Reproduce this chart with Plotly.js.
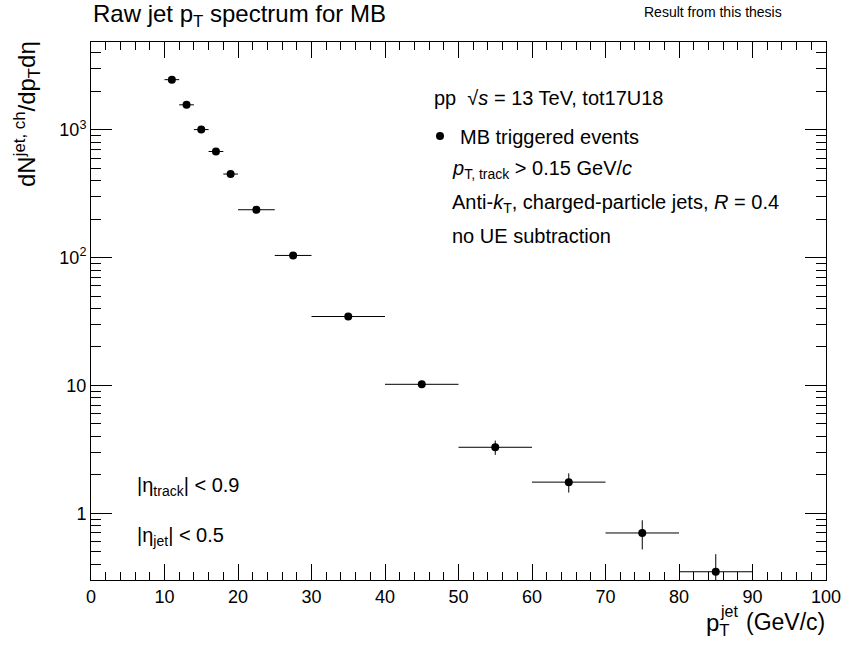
<!DOCTYPE html>
<html>
<head>
<meta charset="utf-8">
<script src="https://cdn.plot.ly/plotly-3.0.1.min.js"></script>
<style>html,body{margin:0;padding:0;background:#fff;}#chart{width:841px;height:646px;}</style>
</head>
<body>
<div id="chart"></div>
<script>
// Bin centres (GeV/c), half bin widths, yields and statistical errors
const binCenters = [11, 13, 15, 17, 19, 22.5, 27.5, 35, 45, 55, 65, 75, 85];
const binHalfWidths = [1, 1, 1, 1, 1, 2.5, 2.5, 5, 5, 5, 5, 5, 5];
const yields = [2470, 1570, 1005, 677, 451, 237, 104, 34.6, 10.2, 3.28, 1.75, 0.70, 0.348];
const yieldErrors = [15, 12, 9, 7, 6, 3, 2, 1.0, 0.35, 0.42, 0.30, 0.18, 0.13];
const yTickVals = [1, 10, 100, 1000];
const yTickText = ['1', '10', '10<sup>2</sup>', '10<sup>3</sup>'];

const FONT = 'Liberation Sans, Arial, Helvetica, sans-serif';
const L = 91, R = 826, T = 42, B = 580;
const px = v => (v - L) / (R - L);
const py = v => (B - v) / (B - T);

const trace = {
  type: 'scatter', mode: 'markers',
  x: binCenters, y: yields,
  name: 'MB triggered events',
  marker: {color: '#000', size: 8, symbol: 'circle'},
  error_x: {type: 'data', array: binHalfWidths, visible: true, color: '#000', thickness: 1, width: 0},
  error_y: {type: 'data', array: yieldErrors, visible: true, color: '#000', thickness: 1, width: 0}
};

function ann(text, x, y, size, xanchor, yanchor, extra) {
  return Object.assign({text: text, x: px(x), y: py(y), xref: 'paper', yref: 'paper',
    xanchor: xanchor, yanchor: yanchor, showarrow: false,
    font: {family: FONT, size: size, color: '#000'}}, extra || {});
}

const layout = {
  width: 841, height: 646,
  margin: {l: L, r: 841 - R, t: T, b: 646 - B, pad: 0},
  paper_bgcolor: '#fff', plot_bgcolor: '#fff',
  font: {family: FONT, color: '#000'},
  showlegend: true,
  legend: {x: px(420), y: py(136), xanchor: 'left', yanchor: 'middle',
    bgcolor: 'rgba(0,0,0,0)', borderwidth: 0, itemwidth: 30,
    font: {family: FONT, size: 20, color: '#000'}},
  xaxis: {
    range: [0, 100], tickmode: 'linear', tick0: 0, dtick: 10,
    ticks: 'inside', ticklen: 16, tickwidth: 1, tickcolor: '#000',
    showline: true, linecolor: '#000', linewidth: 1, mirror: 'allticks',
    showgrid: false, zeroline: false, ticklabeloverflow: 'allow',
    tickfont: {family: FONT, size: 18, color: '#000'},
    minor: {dtick: 2, ticks: 'inside', ticklen: 8, tickwidth: 1, tickcolor: '#000', showgrid: false}
  },
  yaxis: {
    type: 'log', range: [Math.log10(0.3), 3.6875],
    tickmode: 'array', tickvals: yTickVals, ticktext: yTickText,
    ticks: 'inside', ticklen: 21, tickwidth: 1, tickcolor: '#000',
    showline: true, linecolor: '#000', linewidth: 1, mirror: 'allticks',
    showgrid: false, zeroline: false,
    tickfont: {family: FONT, size: 18, color: '#000'},
    minor: {dtick: 'D1', ticks: 'inside', ticklen: 10, tickwidth: 1, tickcolor: '#000', showgrid: false}
  },
  annotations: [
    ann('Raw jet p<sub>T</sub> spectrum for MB', 91, 16, 24, 'left', 'middle'),
    ann('Result from this thesis', 642, 12, 14, 'left', 'middle'),
    ann('pp  √<i>s</i> = 13 TeV, tot17U18', 432, 98, 20, 'left', 'middle'),
    ann('<i>p</i><sub>T, track</sub> > 0.15 GeV/<i>c</i>', 450, 169, 20, 'left', 'middle'),
    ann('Anti-<i>k</i><sub>T</sub>, charged-particle jets, <i>R</i> = 0.4', 450, 204, 20, 'left', 'middle'),
    ann('no UE subtraction', 450, 236, 20, 'left', 'middle'),
    ann('|η<sub>track</sub>| < 0.9', 135, 486, 20, 'left', 'middle'),
    ann('|η<sub>jet</sub>| < 0.5', 135, 536, 20, 'left', 'middle'),
    ann('dN<sup>jet, ch</sup>/dp<sub>T</sub>dη', 27, 39, 24, 'center', 'top', {textangle: -90}),
    ann('p<sub>T</sub>', 704, 624, 24, 'left', 'middle'),
    ann('jet', 718, 611, 16, 'left', 'middle'),
    ann('(GeV/c)', 827, 622, 23, 'right', 'middle')
  ]
};

Plotly.newPlot('chart', [trace], layout, {staticPlot: true, displayModeBar: false});
</script>
</body>
</html>
